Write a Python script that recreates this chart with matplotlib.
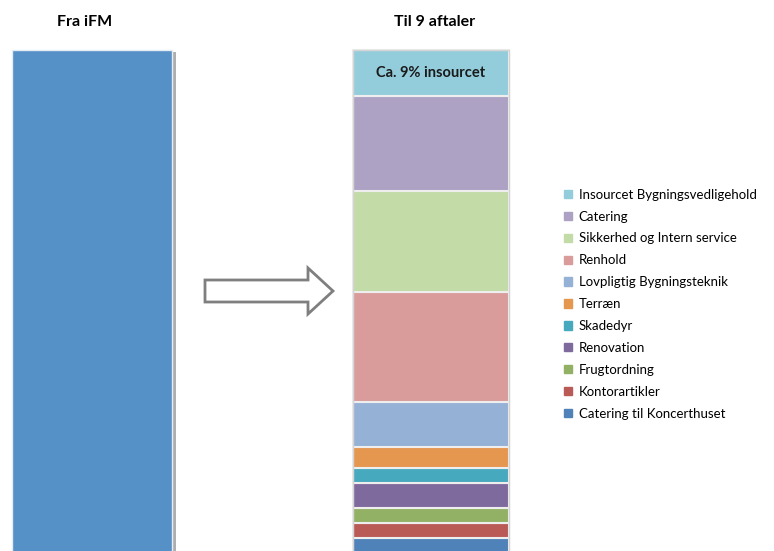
import matplotlib.pyplot as plt
import matplotlib.patches as mpatches
import matplotlib.patheffects as pe

# data (share of total, %), stacked from bottom to top
categories = [
    "Catering til Koncerthuset",
    "Kontorartikler",
    "Frugtordning",
    "Renovation",
    "Skadedyr",
    "Terræn",
    "Lovpligtig Bygningsteknik",
    "Renhold",
    "Sikkerhed og Intern service",
    "Catering",
    "Insourcet Bygningsvedligehold",
]
shares = [3, 3, 3, 5, 3, 4, 9, 22, 20, 19, 9]
colors = [
    "#4F82B8", "#B95A57", "#93B165", "#7F6A9E", "#47A9BD", "#E5964F",
    "#96B1D6", "#D99C9B", "#C3DBA6", "#ADA1C4", "#93CDDB",
]
total_before = 100
bar_titles = ["Fra iFM", "Til 9 aftaler"]
insourced_label = "Ca. 9% insourcet"

plt.rcParams['font.family'] = ['Lato', 'DejaVu Sans']

fig = plt.figure(figsize=(7.74, 5.51), dpi=100)
ax = fig.add_axes([0, 0, 1, 1])
ax.set_xlim(0, 774)
ax.set_ylim(0.4, 110)
ax.axis("off")

# left bar
left = ax.bar(92, total_before, width=160, color="#5591C7", edgecolor="#E6ECF4", linewidth=1)
left[0].set_path_effects([pe.SimplePatchShadow(offset=(3, -1), shadow_rgbFace="#9A9A9A", alpha=0.8),
                          pe.Normal()])

# right stacked bar
bottom = 0
handles = []
for cat, val, col in zip(categories, shares, colors):
    ax.bar(431, val, width=156, bottom=bottom, color=col, edgecolor="#EEEEEE", linewidth=1.5)
    handles.append(mpatches.Patch(color=col, label=cat))
    bottom += val
ax.add_patch(mpatches.Rectangle((353, 0), 156, bottom, fill=False, edgecolor="#D4D4D4", lw=1))

ax.text(431, bottom - shares[-1] / 2, insourced_label, ha="center", va="center",
        fontsize=10.5, fontweight="bold", color="#1A1A1A")

ax.text(85, 105.6, bar_titles[0], ha="center", va="center", fontsize=11.5, fontweight="bold")
ax.text(435, 105.6, bar_titles[1], ha="center", va="center", fontsize=11.5, fontweight="bold")

# outlined arrow between the bars
over = fig.add_axes([0, 0, 1, 1])
over.set_xlim(0, 774)
over.set_ylim(551, 0)
over.axis("off")
over.add_patch(mpatches.Polygon(
    [(205, 280), (308, 280), (308, 268), (333, 291), (308, 314), (308, 302), (205, 302)],
    closed=True, facecolor="white", edgecolor="#7F7F7F", lw=2))

# legend, top entry first
fig.legend(handles=handles[::-1], loc="center left", bbox_to_anchor=(0.722, 0.448),
           frameon=False, fontsize=9.5, handlelength=0.6, handleheight=0.6,
           handletextpad=0.5, labelspacing=0.75, borderaxespad=0)

fig.savefig("out.png", dpi=100)
